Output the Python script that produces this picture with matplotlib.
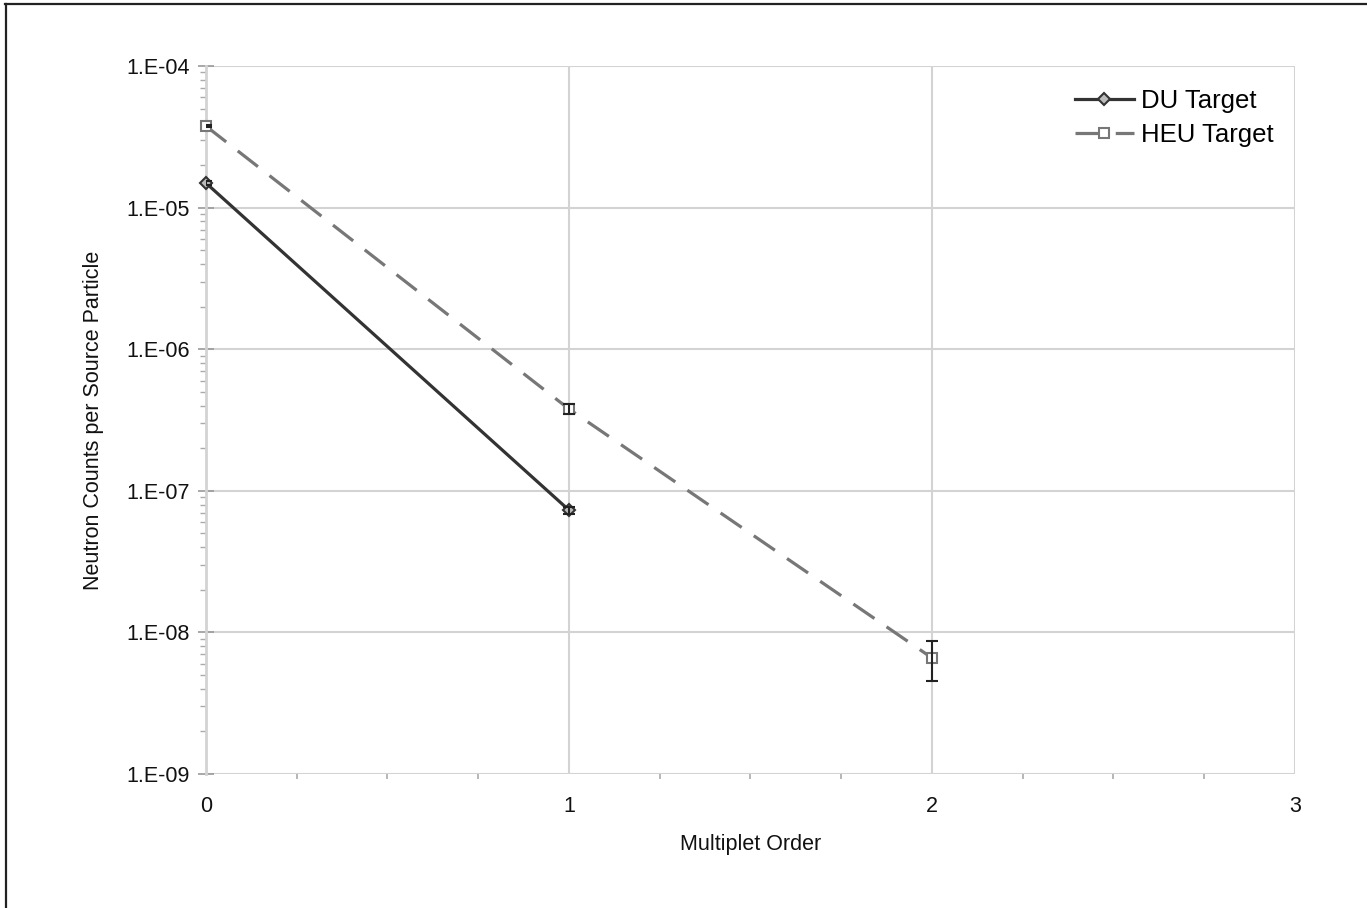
import numpy as np
import matplotlib
matplotlib.use("Agg")
import matplotlib.pyplot as plt
from matplotlib.lines import Line2D
from matplotlib.ticker import FixedLocator, FuncFormatter, LogLocator, NullFormatter

plt.rcParams['font.family'] = ['Liberation Sans', 'DejaVu Sans']

# multiplet order vs. counts per source particle
du_order = [0, 1]
du_counts = [1.49e-5, 7.3e-8]
du_err = [0.05e-5, 0.4e-8]

heu_order = [0, 1, 2]
heu_counts = [3.76e-5, 3.78e-7, 6.6e-9]
heu_err = [0.08e-5, 0.3e-7, 2.05e-9]

fig = plt.figure(figsize=(13.67, 9.08), dpi=100)
ax = fig.add_axes([0.1507, 0.1476, 0.9473 - 0.1507, 0.9273 - 0.1476])

grid_c = '#d3d3d3'
du_style = dict(color='#333333', lw=2.3, marker='D', ms=6, mfc='#bbbbbb',
                mec='#333333', mew=1.5)
heu_style = dict(color='#777777', lw=2.3, linestyle=(0, (8, 4.6)), marker='s',
                 ms=7.5, mfc='white', mec='#777777', mew=1.5)

ax.plot(du_order, du_counts, clip_on=False, zorder=4, **du_style)
ax.errorbar(du_order, du_counts, yerr=du_err, fmt='none', ecolor='#222222',
            elinewidth=1.5, capsize=4.5, capthick=1.5, zorder=5)
ax.plot(heu_order, heu_counts, clip_on=False, zorder=3, **heu_style)
ax.errorbar(heu_order, heu_counts, yerr=heu_err, fmt='none', ecolor='#222222',
            elinewidth=1.5, capsize=4.5, capthick=1.5, zorder=5)

ax.set_yscale('log')
ax.set_xlim(0, 3)
ax.set_ylim(1e-9, 1e-4)

ax.xaxis.set_major_locator(FixedLocator([0, 1, 2, 3]))
ax.xaxis.set_minor_locator(FixedLocator([0.25, 0.5, 0.75, 1.25, 1.5, 1.75,
                                         2.25, 2.5, 2.75]))
ax.yaxis.set_major_locator(LogLocator(base=10, numticks=10))
ax.yaxis.set_minor_locator(LogLocator(base=10, subs=np.arange(2, 10), numticks=20))
ax.yaxis.set_minor_formatter(NullFormatter())
ax.yaxis.set_major_formatter(
    FuncFormatter(lambda v, p: f"1.E{int(round(np.log10(v))):+03d}"))

ax.grid(True, which='major', color=grid_c, lw=1.5)
ax.set_axisbelow(True)
for s in ['top', 'right', 'bottom']:
    ax.spines[s].set_visible(False)
ax.spines['left'].set_color(grid_c)
ax.spines['left'].set_linewidth(2)

ax.tick_params(axis='x', which='major', length=0, pad=16, labelsize=15.5,
               labelcolor='#111111')
ax.tick_params(axis='x', which='minor', direction='out', length=3.5,
               width=1.2, color='#aaaaaa')
ax.tick_params(axis='y', which='major', direction='inout', length=11,
               width=1.2, color='#999999', pad=6, labelsize=15.5,
               labelcolor='#111111')
ax.tick_params(axis='y', which='minor', direction='out', length=4,
               width=1.0, color='#aaaaaa')

ax.set_xlabel('Multiplet Order', fontsize=15.5, color='#111111', labelpad=12)
ax.set_ylabel('Neutron Counts per Source Particle', fontsize=15.5,
              color='#111111', labelpad=16)

handles = [Line2D([], [], **du_style), Line2D([], [], **heu_style)]
ax.legend(handles, ['DU Target', 'HEU Target'], loc='upper right',
          frameon=False, fontsize=18.5, handlelength=2.3, handletextpad=0.3,
          labelspacing=0.42, borderaxespad=0.2, bbox_to_anchor=(0.995, 0.99))

# outer frame (top and left edges)
fig.add_artist(Line2D([0.004, 1.0], [0.9955, 0.9955], color='#222222', lw=1.6,
                      transform=fig.transFigure))
fig.add_artist(Line2D([0.0042, 0.0042], [0.0, 0.9955], color='#222222', lw=1.6,
                      transform=fig.transFigure))

fig.savefig('out.png', dpi=100)
